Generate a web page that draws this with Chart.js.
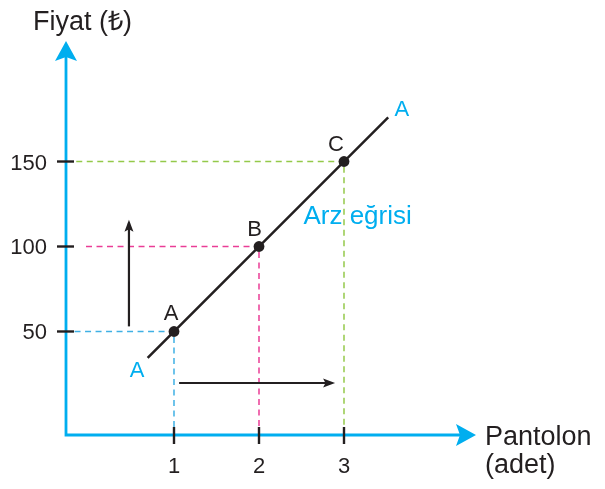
<!DOCTYPE html>
<html>
<head>
<meta charset="utf-8">
<script src="https://cdn.jsdelivr.net/npm/chart.js@4"></script>
<style>
  body { margin: 0; background: #fff; }
  canvas { display: block; }
</style>
</head>
<body>
<canvas id="myChart" width="605" height="489"></canvas>
<script>
// data
const xTicks = [1, 2, 3];
const yTicks = [50, 100, 150];
const pointX = [1, 2, 3];
const pointY = [50, 100, 150];
const pointNames = ["A", "B", "C"];
const guideStartX = [-0.17, -0.035, -0.15];
const lineX = [0.69, 3.52];
const lineY = [34.5, 176];
const upArrowX = [0.47, 0.47];
const upArrowY = [53, 114];
const rightArrowX = [1.06, 2.86];
const rightArrowY = [19.7, 19.7];
const yTitle = "Fiyat (₺)";
const xTitle = ["Pantolon", "(adet)"];
const curveName = "Arz eğrisi";
const curveEnds = [[0.565, 23], [3.68, 177]];
const curveNamePos = [3.16, 113];

const guideColors = ["#3fb0e4", "#ea3d96", "#94c94a"];
const cyan = "#00aeef";
const dark = "#231f20";
const FONT = "'Liberation Sans', Arial, sans-serif";

const datasets = [];
// dashed guides
for (let i = 0; i < pointX.length; i++) {
  datasets.push({
    data: [{ x: guideStartX[i], y: pointY[i] }, { x: pointX[i], y: pointY[i] }, { x: pointX[i], y: -10.9 }],
    showLine: true,
    borderColor: guideColors[i],
    borderWidth: 1.5,
    borderDash: [6, 4.5],
    pointRadius: 0,
    order: 3,
  });
}
datasets.push({
  data: lineX.map((x, i) => ({ x: x, y: lineY[i] })),
  showLine: true,
  borderColor: dark,
  borderWidth: 2.5,
  pointRadius: 0,
  order: 2,
});
datasets.push({
  data: upArrowX.map((x, i) => ({ x: x, y: upArrowY[i] })),
  showLine: true,
  borderColor: dark,
  borderWidth: 2.2,
  pointRadius: 0,
  order: 2,
});
datasets.push({
  data: rightArrowX.map((x, i) => ({ x: x, y: rightArrowY[i] })),
  showLine: true,
  borderColor: dark,
  borderWidth: 2.2,
  pointRadius: 0,
  order: 2,
});
datasets.push({
  data: pointX.map((x, i) => ({ x: x, y: pointY[i] })),
  pointRadius: 5.4,
  pointBackgroundColor: dark,
  pointBorderColor: dark,
  pointBorderWidth: 0,
  order: 0,
});

function arrowHead(ctx, x, y, dir, len, half, color) {
  ctx.save();
  ctx.fillStyle = color;
  ctx.beginPath();
  if (dir === "up") {
    ctx.moveTo(x, y);
    ctx.lineTo(x - half, y + len);
    ctx.lineTo(x, y + len * 0.8);
    ctx.lineTo(x + half, y + len);
  } else {
    ctx.moveTo(x, y);
    ctx.lineTo(x - len, y - half);
    ctx.lineTo(x - len * 0.8, y);
    ctx.lineTo(x - len, y + half);
  }
  ctx.closePath();
  ctx.fill();
  ctx.restore();
}

const decor = {
  id: "decor",
  afterDatasetsDraw(chart) {
    const ctx = chart.ctx;
    const xs = chart.scales.x;
    const ys = chart.scales.y;
    const area = chart.chartArea;
    const x0 = area.left, y0 = area.bottom;

    // axes
    ctx.save();
    ctx.strokeStyle = cyan;
    ctx.lineWidth = 2.8;
    ctx.beginPath();
    ctx.moveTo(x0, y0);
    ctx.lineTo(x0, area.top + 14);
    ctx.moveTo(x0 - 1.4, y0);
    ctx.lineTo(area.right - 14, y0);
    ctx.stroke();
    ctx.restore();
    arrowHead(ctx, x0, area.top, "up", 20, 11, cyan);
    arrowHead(ctx, area.right, y0, "right", 20, 11, cyan);

    // ticks and labels
    ctx.save();
    ctx.strokeStyle = dark;
    ctx.lineWidth = 2.4;
    ctx.fillStyle = dark;
    ctx.font = "22px " + FONT;
    ctx.textBaseline = "alphabetic";
    yTicks.forEach((v) => {
      const py = ys.getPixelForValue(v);
      ctx.beginPath();
      ctx.moveTo(x0 - 9, py);
      ctx.lineTo(x0 + 8, py);
      ctx.stroke();
      ctx.textAlign = "right";
      ctx.fillText(String(v), 47, py + 8);
    });
    xTicks.forEach((v) => {
      const px = xs.getPixelForValue(v);
      ctx.beginPath();
      ctx.moveTo(px, y0 - 8);
      ctx.lineTo(px, y0 + 9);
      ctx.stroke();
      ctx.textAlign = "center";
      ctx.fillText(String(v), px, y0 + 38);
    });

    // titles
    ctx.font = "27px " + FONT;
    ctx.textAlign = "left";
    ctx.fillText(yTitle, 33, 30);
    ctx.fillText(xTitle[0], 485, 445);
    ctx.fillText(xTitle[1], 485, 473);

    // arrow heads on the shift arrows
    arrowHead(ctx, xs.getPixelForValue(upArrowX[1]), ys.getPixelForValue(upArrowY[1]) - 3, "up", 12, 4.5, dark);
    arrowHead(ctx, xs.getPixelForValue(rightArrowX[1]) + 3, ys.getPixelForValue(rightArrowY[1]), "right", 12, 4.5, dark);

    // point names
    ctx.font = "22px " + FONT;
    ctx.fillStyle = dark;
    ctx.textAlign = "center";
    const offs = [[-3, -11], [-4.5, -10], [-8, -11]];
    pointNames.forEach((n, i) => {
      ctx.fillText(n, xs.getPixelForValue(pointX[i]) + offs[i][0], ys.getPixelForValue(pointY[i]) + offs[i][1]);
    });

    // curve labels
    ctx.fillStyle = cyan;
    curveEnds.forEach((p) => {
      ctx.fillText("A", xs.getPixelForValue(p[0]), ys.getPixelForValue(p[1]));
    });
    ctx.font = "26px " + FONT;
    ctx.fillText(curveName, xs.getPixelForValue(curveNamePos[0]), ys.getPixelForValue(curveNamePos[1]));
    ctx.restore();
  },
};

new Chart(document.getElementById("myChart"), {
  type: "scatter",
  data: { datasets: datasets },
  options: {
    responsive: false,
    animation: false,
    layout: { padding: { left: 66, right: 129, top: 41, bottom: 54 } },
    plugins: { legend: { display: false }, tooltip: { enabled: false } },
    scales: {
      x: { type: "linear", min: -0.2706, max: 4.553, display: false },
      y: { type: "linear", min: -10.9, max: 220.9, display: false },
    },
  },
  plugins: [decor],
});
</script>
</body>
</html>
